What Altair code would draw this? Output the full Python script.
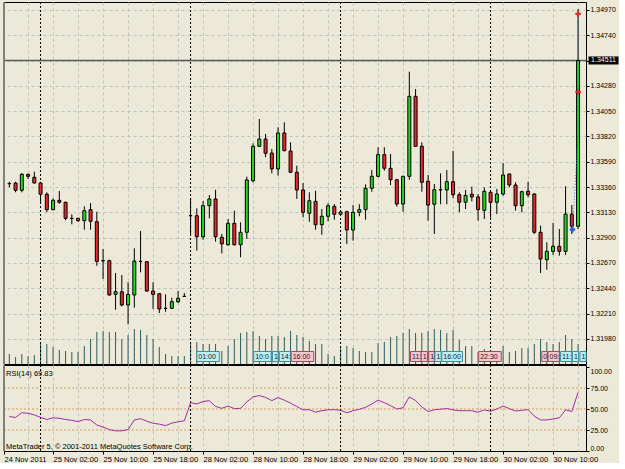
import altair as alt
import pandas as pd

# ---------------- data ----------------
OPEN = [
    1.33391, 1.33397, 1.33331, 1.33476, 1.33449, 1.33397, 1.33295, 1.33155, 1.33240, 1.33222,
    1.33076, 1.33076, 1.33055, 1.33155, 1.33045, 1.32691, 1.32691, 1.32385, 1.32409, 1.32288,
    1.32379, 1.32685, 1.32682, 1.32415, 1.32391, 1.32258, 1.32258, 1.32318, 1.32367, 1.33100,
    1.33100, 1.32909, 1.33191, 1.33252, 1.32904, 1.32836, 1.33031, 1.32836, 1.32949, 1.33418,
    1.33731, 1.33797, 1.33670, 1.33525, 1.33852, 1.33688, 1.33495, 1.33334, 1.33122, 1.33231,
    1.33018, 1.33095, 1.33185, 1.33113, 1.33136, 1.32970, 1.33131, 1.33155, 1.33349, 1.33458,
    1.33655, 1.33531, 1.33427, 1.33206, 1.33458, 1.34185, 1.33731, 1.33413, 1.33204, 1.33336,
    1.33334, 1.33409, 1.33291, 1.33222, 1.33295, 1.33270, 1.33149, 1.33313, 1.33222, 1.33297,
    1.33479, 1.33379, 1.33191, 1.33322, 1.33297, 1.32949, 1.32700, 1.32776, 1.32822, 1.32776,
    1.33115, 1.33004]
HIGH = [
    1.33409, 1.33409, 1.33488, 1.33482, 1.33500, 1.33409, 1.33313, 1.33258, 1.33325, 1.33227,
    1.33113, 1.33082, 1.33185, 1.33215, 1.33136, 1.32797, 1.32700, 1.32579, 1.32561, 1.32495,
    1.32804, 1.32961, 1.32688, 1.32495, 1.32397, 1.32385, 1.32355, 1.32415, 1.32397, 1.33258,
    1.33167, 1.33234, 1.33288, 1.33336, 1.32934, 1.33070, 1.33145, 1.33040, 1.33455, 1.33758,
    1.33979, 1.33843, 1.33706, 1.33904, 1.33949, 1.33767, 1.33555, 1.33397, 1.33313, 1.33327,
    1.33161, 1.33213, 1.33206, 1.33145, 1.33145, 1.33197, 1.33204, 1.33385, 1.33515, 1.33722,
    1.33722, 1.33661, 1.33434, 1.33464, 1.34409, 1.34252, 1.33767, 1.33470, 1.33388, 1.33485,
    1.33515, 1.33688, 1.33313, 1.33334, 1.33364, 1.33297, 1.33358, 1.33318, 1.33343, 1.33579,
    1.33482, 1.33404, 1.33327, 1.33409, 1.33304, 1.33009, 1.32858, 1.33034, 1.32979, 1.33367,
    1.33197, 1.34979]
LOW = [
    1.33358, 1.33313, 1.33313, 1.33434, 1.33395, 1.33206, 1.33131, 1.33149, 1.33209, 1.33058,
    1.33022, 1.33045, 1.32973, 1.32973, 1.32645, 1.32525, 1.32373, 1.32245, 1.32276, 1.32113,
    1.32264, 1.32585, 1.32409, 1.32252, 1.32215, 1.32227, 1.32252, 1.32306, 1.32361, 1.32925,
    1.32782, 1.32882, 1.33076, 1.32864, 1.32758, 1.32827, 1.32827, 1.32722, 1.32888, 1.33404,
    1.33727, 1.33631, 1.33485, 1.33464, 1.33685, 1.33488, 1.33252, 1.33085, 1.33045, 1.32973,
    1.32927, 1.33049, 1.33064, 1.33106, 1.32843, 1.32873, 1.33095, 1.33064, 1.33318, 1.33449,
    1.33509, 1.33379, 1.33182, 1.33136, 1.33427, 1.33727, 1.33318, 1.33055, 1.32934, 1.33204,
    1.33204, 1.33258, 1.33131, 1.33161, 1.33231, 1.33055, 1.33070, 1.33070, 1.33115, 1.33282,
    1.33358, 1.33146, 1.33131, 1.33267, 1.32934, 1.32579, 1.32609, 1.32743, 1.32736, 1.32743,
    1.32934, 1.32979]
CLOSE = [
    1.33392, 1.33331, 1.33476, 1.33458, 1.33397, 1.33295, 1.33155, 1.33240, 1.33222, 1.33076,
    1.33075, 1.33055, 1.33145, 1.33049, 1.32685, 1.32690, 1.32379, 1.32409, 1.32288, 1.32385,
    1.32688, 1.32684, 1.32415, 1.32385, 1.32252, 1.32257, 1.32318, 1.32349, 1.32366, 1.33099,
    1.32909, 1.33191, 1.33252, 1.32909, 1.32843, 1.33031, 1.32836, 1.32949, 1.33425, 1.33731,
    1.33797, 1.33667, 1.33525, 1.33852, 1.33691, 1.33495, 1.33334, 1.33131, 1.33236, 1.33018,
    1.33095, 1.33191, 1.33113, 1.33134, 1.32970, 1.33131, 1.33155, 1.33349, 1.33458, 1.33655,
    1.33531, 1.33427, 1.33206, 1.33458, 1.34185, 1.33731, 1.33404, 1.33197, 1.33336, 1.33335,
    1.33409, 1.33291, 1.33222, 1.33285, 1.33270, 1.33155, 1.33322, 1.33222, 1.33297, 1.33470,
    1.33379, 1.33191, 1.33318, 1.33291, 1.32949, 1.32706, 1.32776, 1.32822, 1.32776, 1.33115,
    1.33004, 1.34511]
TICK_VOLUME = [
    400, 280, 400, 320, 360, 880, 800, 680, 560, 520,
    480, 480, 720, 1000, 1280, 1320, 1280, 1280, 1000, 1160,
    1400, 1360, 1160, 1000, 680, 400, 320, 320, 320, 800,
    880, 800, 800, 800, 520, 720, 1000, 1240, 1280, 1320,
    1120, 1000, 1120, 1120, 1080, 1320, 1160, 1080, 920, 800,
    800, 400, 320, 720, 720, 640, 520, 480, 480, 840,
    880, 1080, 1120, 1240, 1400, 1240, 1240, 1320, 1400, 1360,
    1240, 1360, 960, 720, 720, 480, 600, 520, 360, 720,
    480, 520, 640, 640, 800, 1000, 880, 800, 880, 1160,
    1000, 800]
RSI = [
    41, 40, 45.5, 45, 43, 40, 37.5, 39.5, 39, 37.5,
    36.5, 35, 37.5, 37, 31, 28.5, 25.5, 24, 24, 25.5,
    37, 38.5, 35.5, 33, 32, 30.2, 33.2, 34.7, 36, 57.5,
    56, 59, 59.9, 53, 50.8, 53.5, 50.5, 50.8, 58.5, 64.5,
    66, 63.8, 60, 63.5, 60.5, 57, 53, 49, 49.2, 46.2,
    48, 49, 49.2, 48.5, 45.5, 48, 49.7, 52, 56, 60.5,
    57.5, 54, 50, 51.5, 64.5, 60, 52.5, 47, 49, 49.8,
    50.5, 49, 48, 48, 48, 46.2, 49, 47.2, 50, 53.5,
    50.5, 47.5, 48.5, 49.2, 41.5, 37, 37, 38.2, 39.5, 49,
    47, 69.83]

# bar index of the day separators (00:00 of 25, 28, 29, 30 Nov)
DAY_SEP = [5, 29, 53, 77]
# time axis labels (bar index -> text)
TIME_IDX = [-0.85, 7, 15, 23, 31, 39, 47, 55, 63, 71, 79, 87]
TIME_TXT = ["24 Nov 2011", "25 Nov 02:00", "25 Nov 10:00", "25 Nov 18:00",
            "28 Nov 02:00", "28 Nov 10:00", "28 Nov 18:00", "29 Nov 02:00",
            "29 Nov 10:00", "29 Nov 18:00", "30 Nov 02:00", "30 Nov 10:00"]
GRID_IDX = list(range(3, 92, 4))
PRICE_TICKS = [1.31980, 1.32210, 1.32440, 1.32670, 1.32900, 1.33130, 1.33360,
               1.33590, 1.33820, 1.34050, 1.34280, 1.34510, 1.34740, 1.34970]
LAST_PRICE = [1.34511]
RSI_TICKS = [0, 25, 50, 75, 100]
RSI_LEVELS = [25, 50, 75]

# calendar events shown in the volume strip
EV_START = [30.0, 39.1, 42.1, 43.2, 45.1, 64.2, 65.9, 67.1, 68.1, 69.2, 75.1, 85.2, 86.2, 88.2, 90.1, 91.3]
EV_END = [33.6, 41.9, 43.0, 45.0, 48.7, 65.9, 66.9, 68.0, 69.1, 72.5, 78.7, 86.1, 88.0, 90.0, 91.1, 92.3]
EV_TEXT = ["01:00", "10:0", "1", "14:", "16:00", "11:", "1", "1", "1", "16:00", "22:30", "0", "09:", "11:", "1", "1"]
EV_KIND = ["c", "c", "c", "c", "p", "p", "p", "p", "c", "c", "p", "p", "p", "c", "c", "c"]

# trade marks
MK_IDX = [91, 91, 90.1]
MK_PRICE = [1.34934, 1.34225, 1.32973]
MK_KIND = ["sell", "sell", "buy"]
TL_IDX = [90.1, 91, 91]
TL_PRICE = [1.32973, 1.33827, 1.34934]

# ---------------- styling ----------------
FONT = "Liberation Sans"
BG = "#ece9d8"
GRID = "#c2c2bc"
GREEN = "#1fdc1f"
RED = "#e82a2a"
W, HP, HR = 582, 362, 86

df = pd.DataFrame({"i": list(range(len(OPEN))), "o": OPEN, "h": HIGH, "l": LOW,
                   "c": CLOSE, "vol": TICK_VOLUME, "rsi": RSI})
df["up"] = df["c"] >= df["o"]
df["lo"] = df[["o", "c"]].min(axis=1)
df["hi"] = df[["o", "c"]].max(axis=1)

sep_df = pd.DataFrame({"i": DAY_SEP})
last_df = pd.DataFrame({"p": LAST_PRICE, "t": ["%.5f" % v for v in LAST_PRICE]})
ev_df = pd.DataFrame({"i": EV_START, "e": EV_END, "t": EV_TEXT, "k": EV_KIND})
mk_df = pd.DataFrame({"i": MK_IDX, "p": MK_PRICE, "k": MK_KIND})
tl_df = pd.DataFrame({"i": TL_IDX, "p": TL_PRICE, "n": list(range(len(TL_IDX)))})
lev_df = pd.DataFrame({"v": RSI_LEVELS})
one = pd.DataFrame({"a": [0]})

xs = alt.Scale(domain=[-0.85, 92.27], nice=False, zero=False, padding=0)
ps = alt.Scale(domain=[1.317518, 1.350427], nice=False, zero=False, padding=0)
rs = alt.Scale(domain=[0, 102.4], nice=False, zero=False, padding=0)
vs = alt.Scale(domain=[0, 14480], nice=False, zero=True, padding=0)

x_grid_axis = alt.Axis(values=GRID_IDX, labels=False, ticks=False, domain=False,
                       grid=True, gridColor=GRID, gridDash=[3, 3], gridWidth=1, title=None,
                       minExtent=0, maxExtent=0, offset=0)
X = alt.X("i:Q", scale=xs, axis=x_grid_axis)

p_axis = alt.Axis(orient="right", values=PRICE_TICKS, format=".5f", grid=True,
                  gridColor=GRID, gridDash=[3, 3], gridWidth=1, tickSize=3, tickColor="#000",
                  domain=False, labelFont=FONT, labelFontSize=7, labelColor="#000",
                  labelPadding=1, labelFlush=False, labelOverlap=False, title=None)


def PY(field):
    return alt.Y(field, scale=ps, axis=p_axis)


left_border_p = alt.Chart(one).mark_rule(color="#808080", strokeWidth=2).encode(
    x=alt.value(0), y=alt.value(0), y2=alt.value(HP))

vol = alt.Chart(df).mark_bar(size=1, color="#2f5c5c").encode(
    x=X, y=alt.Y("vol:Q", scale=vs, axis=None))

sep = alt.Chart(sep_df).mark_rule(color="#000", strokeDash=[2, 2], strokeWidth=1).encode(x=X)
pline = alt.Chart(last_df).mark_rule(color="#5a5a5a", strokeWidth=1.5).encode(y=PY("p:Q"))
wick = alt.Chart(df).mark_rule(color="#000", strokeWidth=1).encode(x=X, y=PY("l:Q"), y2="h:Q")
body = alt.Chart(df).mark_bar(size=3, stroke="#000", strokeWidth=1).encode(
    x=X, y=PY("lo:Q"), y2="hi:Q",
    fill=alt.condition("datum.up", alt.value(GREEN), alt.value(RED)))
tline = alt.Chart(tl_df).mark_line(color="#3a6fd0", strokeDash=[1, 2], strokeWidth=1).encode(
    x=X, y=PY("p:Q"), order="n:Q")
marks = alt.Chart(mk_df).mark_point(shape="cross", filled=True, size=30, opacity=1).encode(
    x=X, y=PY("p:Q"),
    color=alt.condition("datum.k == 'buy'", alt.value("#1f5fd0"), alt.value("#e03020")))
ev_rect = alt.Chart(ev_df).mark_rect(strokeWidth=1).encode(
    x=X, x2="e:Q", y=alt.value(349.5), y2=alt.value(359.5),
    fill=alt.condition("datum.k == 'c'", alt.value("#bfeef2"), alt.value("#f6c6d0")),
    stroke=alt.condition("datum.k == 'c'", alt.value("#3b8f9c"), alt.value("#a8485a")))
ev_text = alt.Chart(ev_df).mark_text(align="left", baseline="middle", dx=1.5,
                                     font=FONT, fontSize=7, color="#102020").encode(
    x=X, y=alt.value(354.8), text="t:N")
plabel_box = alt.Chart(last_df).mark_tick(orient="horizontal", size=30, thickness=8,
                                          color="#000", opacity=1).encode(
    x=alt.value(599.5), y=PY("p:Q"))
plabel_text = alt.Chart(last_df).mark_text(align="center", baseline="middle", font=FONT,
                                           fontSize=7, color="#fff").encode(
    x=alt.value(599.5), y=PY("p:Q"), text="t:N")

price_core = alt.layer(sep, pline, wick, body, tline, marks, ev_rect, ev_text,
                       plabel_box, plabel_text, left_border_p)
price = alt.layer(vol, price_core).resolve_scale(y="independent").properties(width=W, height=HP)

# ---------------- RSI pane ----------------
idx_js = "[" + ",".join(str(v) for v in TIME_IDX) + "]"
txt_js = "[" + ",".join("'" + t + "'" for t in TIME_TXT) + "]"
rsi_x_axis = alt.Axis(
    values=[TIME_IDX[0]] + GRID_IDX, grid=True, gridColor=GRID, gridDash=[3, 3], gridWidth=1,
    gridOpacity={"condition": {"test": "datum.value < 0", "value": 0}, "value": 1},
    tickOpacity={"condition": {"test": "indexof(" + idx_js + ", datum.value) >= 0", "value": 1}, "value": 0},
    tickSize=3, tickColor="#000",
    labelExpr="indexof(" + idx_js + ", datum.value) >= 0 ? " + txt_js + "[indexof(" + idx_js + ", datum.value)] : ''",
    labelAlign="left", labelBaseline="top", labelPadding=1, labelFont=FONT, labelFontSize=7.5,
    labelColor="#000", labelFlush=False, labelOverlap=False, labelBound=False, domain=False, title=None)
XR = alt.X("i:Q", scale=xs, axis=rsi_x_axis)

r_axis = alt.Axis(orient="right", values=RSI_TICKS, format=".2f", grid=False, tickSize=3,
                  tickColor="#000", domain=False, labelFont=FONT, labelFontSize=7,
                  labelColor="#000", labelPadding=1, labelFlush=3, labelOverlap=False, title=None)

levels = alt.Chart(lev_df).mark_rule(color="#e8974c", strokeDash=[2, 2], strokeWidth=1).encode(
    y=alt.Y("v:Q", scale=rs, axis=r_axis))
sep_r = alt.Chart(sep_df).mark_rule(color="#000", strokeDash=[2, 2], strokeWidth=1).encode(x=XR)
rsi_line = alt.Chart(df).mark_line(color="#a52aa5", strokeWidth=1).encode(
    x=XR, y=alt.Y("rsi:Q", scale=rs, axis=r_axis))
rsi_title = alt.Chart(pd.DataFrame({"t": ["RSI(14) %.2f" % RSI[-1]]})).mark_text(
    align="left", baseline="middle", font=FONT, fontSize=7.5, color="#000").encode(
    x=alt.value(2), y=alt.value(8.5), text="t:N")
copyright = alt.Chart(pd.DataFrame({"t": ["MetaTrader 5, \u00a9 2001-2011 MetaQuotes Software Corp."]})).mark_text(
    align="left", baseline="middle", font=FONT, fontSize=7.5, color="#000").encode(
    x=alt.value(2), y=alt.value(81.5), text="t:N")
left_border_r = alt.Chart(one).mark_rule(color="#808080", strokeWidth=2).encode(
    x=alt.value(0), y=alt.value(0), y2=alt.value(HR))

rsi = alt.layer(levels, sep_r, rsi_line, rsi_title, copyright, left_border_r).properties(
    width=W, height=HR)

chart = alt.vconcat(price, rsi, spacing=1, bounds="flush").properties(
    padding={"left": 2, "top": 0, "right": 0, "bottom": 0},
    background=BG,
).configure_view(stroke="#000", strokeWidth=1, fill=BG).configure_text(font=FONT)

chart.save("out.html", embed_options={"renderer": "svg", "actions": False})
